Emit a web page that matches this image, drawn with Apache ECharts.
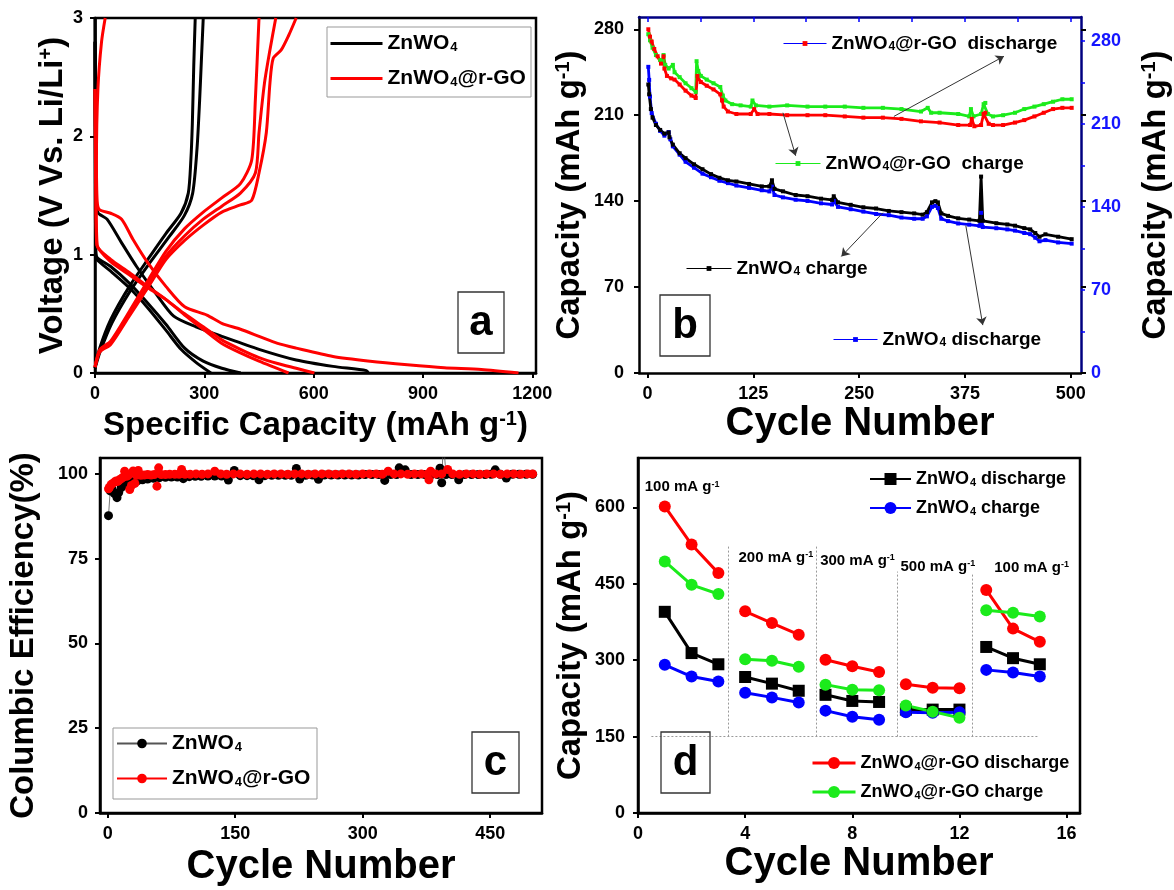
<!DOCTYPE html>
<html>
<head>
<meta charset="utf-8">
<script src="https://cdn.jsdelivr.net/npm/echarts@6/dist/echarts.min.js"></script>
<style>
  html, body { margin: 0; padding: 0; background: #fff; }
  #chart { width: 1174px; height: 890px; }
</style>
</head>
<body>
<div id="chart"></div>
<script>
const FONT = '"Liberation Sans", Arial, Helvetica, sans-serif';

// ---------- (a) charge / discharge voltage profiles: [capacity mAh/g, voltage V] ----------
const znwoDischarge1 = [[0,3.0],[1,2.2],[3,1.6],[7,1.36],[33,1.30],[73,1.10],[114,0.90],[165,0.68],[216,0.48],[277,0.39],[348,0.31],[450,0.20],[552,0.11],[653,0.056],[745,0.02],[750,0.0]];
const znwoDischarge2 = [[0,2.8],[1,1.6],[2,1.05],[5,0.98],[43,0.90],[94,0.76],[145,0.59],[195,0.41],[246,0.21],[297,0.10],[348,0.04],[400,0.0]];
const znwoDischarge3 = [[0,2.8],[1,1.6],[2,1.02],[5,0.96],[43,0.86],[94,0.72],[145,0.55],[195,0.36],[236,0.20],[277,0.09],[318,0.0]];
const znwoCharge1 = [[0,0.04],[12,0.2],[43,0.45],[94,0.73],[145,0.96],[195,1.18],[236,1.35],[256,1.52],[263,1.8],[267,2.1],[271,2.6],[275,3.0]];
const znwoCharge2 = [[0,0.04],[14,0.18],[46,0.42],[98,0.70],[150,0.93],[203,1.15],[245,1.33],[268,1.52],[280,1.9],[287,2.3],[292,2.65],[297,3.0]];

const rgoDischarge1 = [[28,3.0],[18,2.8],[8,2.4],[4,1.8],[6,1.45],[12,1.38],[43,1.35],[73,1.30],[104,1.13],[145,0.93],[195,0.73],[246,0.56],[307,0.49],[348,0.42],[399,0.37],[450,0.31],[501,0.25],[552,0.21],[653,0.14],[755,0.10],[857,0.07],[958,0.045],[1060,0.03],[1162,0.0]];
const rgoDischarge2 = [[0,2.4],[2,1.5],[5,1.08],[43,0.96],[94,0.85],[145,0.73],[195,0.62],[246,0.49],[297,0.37],[348,0.25],[399,0.17],[450,0.10],[531,0.0]];
const rgoDischarge3 = [[0,2.4],[3,1.5],[6,1.08],[43,0.94],[94,0.83],[145,0.72],[195,0.62],[246,0.50],[297,0.39],[348,0.28],[399,0.20],[450,0.13],[501,0.08],[552,0.04],[602,0.0]];
const rgoCharge1 = [[0,0.05],[14,0.2],[43,0.27],[94,0.52],[145,0.78],[195,1.03],[246,1.22],[297,1.36],[348,1.48],[399,1.60],[430,1.80],[440,2.31],[450,3.0]];
const rgoCharge2 = [[0,0.05],[14,0.2],[43,0.25],[94,0.50],[145,0.75],[195,0.99],[246,1.16],[297,1.30],[348,1.41],[399,1.52],[440,1.69],[450,2.03],[465,2.45],[480,2.73],[496,3.0]];
const rgoCharge3 = [[0,0.05],[14,0.18],[43,0.24],[94,0.48],[145,0.72],[195,0.96],[246,1.12],[297,1.25],[348,1.36],[399,1.42],[430,1.46],[450,1.69],[470,2.03],[480,2.45],[489,2.66],[511,2.73],[531,2.85],[552,3.0]];

const znwoProfiles = [znwoDischarge1, znwoDischarge2, znwoDischarge3, znwoCharge1, znwoCharge2];
const rgoProfiles = [rgoDischarge1, rgoDischarge2, rgoDischarge3, rgoCharge1, rgoCharge2, rgoCharge3];
const capTicks = [0, 300, 600, 900, 1200];
const voltTicks = [0, 1, 2, 3];

// ---------- (b) long-term cycling: [cycle, capacity mAh/g] ----------
const rgoChargeCycling = [[1,276],[3,271],[6,265],[10,259],[15,255],[18,254],[19,259],[21,251],[25,248],[30,251],[32,245],[38,241],[45,236],[52,232],[57,229],[58,254],[60,246],[63,242],[70,239],[78,236],[86,233],[89,226],[92,222],[100,219],[110,218],[122,217],[124,222],[128,218],[144,217],[165,218],[189,217],[210,217],[233,217],[255,216],[278,216],[300,215],[323,213],[331,216],[335,212],[345,212],[367,211],[380,209],[382,215],[385,209],[394,211],[397,219],[399,220],[402,211],[408,209],[420,210],[434,212],[445,215],[457,217],[468,219],[479,221],[490,223],[501,223]];
const rgoDischargeCycling = [[1,280],[3,274],[5,270],[8,264],[12,258],[16,252],[19,258],[20,248],[23,242],[28,240],[32,239],[38,235],[45,230],[52,226],[57,224],[59,242],[63,237],[70,234],[78,231],[86,227],[88,222],[90,217],[95,213],[105,211],[122,211],[126,215],[130,211],[144,211],[165,210],[189,210],[210,210],[233,209],[255,208],[278,208],[300,207],[323,205],[345,204],[367,202],[381,202],[383,207],[386,201],[394,202],[397,211],[399,212],[403,203],[408,202],[420,202],[434,204],[445,206],[457,209],[468,212],[479,215],[490,216],[501,216]];
const znwoChargeCycling = [[1,235],[2,227],[4,215],[6,208],[10,202],[15,198],[20,195],[25,196],[26,192],[30,186],[38,179],[45,175],[55,170],[65,166],[75,162],[85,159],[95,157],[105,156],[120,154],[135,152],[144,152],[147,157],[150,150],[160,148],[175,145],[189,144],[205,142],[218,141],[220,144],[225,139],[240,137],[255,135],[270,134],[285,132],[300,131],[315,130],[325,129],[330,131],[336,139],[340,140],[343,139],[347,130],[355,128],[367,126],[380,125],[392,124],[394,160],[396,124],[412,122],[425,121],[434,120],[445,118],[452,117],[458,114],[463,111],[470,113],[485,111],[501,109]];
const znwoDischargeCycling = [[1,258],[2,247],[3,233],[5,219],[10,210],[15,204],[20,200],[25,203],[27,197],[30,191],[38,184],[45,178],[55,173],[65,168],[75,165],[85,162],[95,160],[105,158],[120,156],[135,154],[144,153],[147,157],[150,150],[160,148],[175,146],[189,145],[205,143],[218,142],[220,145],[225,140],[240,138],[255,136],[270,134],[285,133],[300,131],[315,130],[325,130],[330,132],[336,140],[340,141],[343,139],[347,130],[355,128],[367,126],[380,125],[392,124],[394,135],[396,123],[412,122],[425,121],[434,120],[445,118],[452,117],[458,114],[463,111],[470,112],[485,110],[501,109]];
const cycleTicksB = [0, 125, 250, 375, 500];
const cycleTicksTopB = [0, 62.5, 125, 187.5, 250, 312.5, 375, 437.5, 500];
const capTicksB = [0, 70, 140, 210, 280];
const capTicksRightB = [0, 35, 70, 105, 140, 175, 210, 245, 280];
// pointer lines from the series labels to their curves: [from, to] in (cycle, capacity)
const pointersB = [
  [[291, 209], [421, 258]],
  [[160, 212], [175, 177]],
  [[278, 130.5], [229, 95]],
  [[376, 120], [396, 39]]
];

// ---------- (c) coulombic efficiency: [cycle, %] ----------
const ceZnwo = [[1,87.7],[3,95.0],[5,95.6],[8,94.2],[11,93.0],[13,94.5],[16,96.0],[20,96.8],[25,97.3],[30,97.7],[35,98.0],[41,98.3],[47,98.5],[54,98.7],[61,98.9],[68,99.0],[75,99.1],[82,99.1],[89,98.6],[96,99.2],[103,99.3],[110,99.3],[118,99.4],[126,99.4],[134,99.4],[142,98.2],[149,101.0],[156,99.5],[164,99.5],[171,99.5],[178,98.3],[185,99.5],[193,99.6],[201,99.6],[209,99.6],[216,99.6],[222,101.6],[226,98.5],[233,99.6],[241,99.7],[248,98.4],[255,99.7],[263,99.7],[271,99.7],[279,99.7],[287,99.7],[295,99.7],[303,99.8],[311,99.8],[319,99.8],[326,98.1],[333,99.8],[340,99.8],[343,101.8],[350,101.2],[357,99.8],[365,99.8],[373,99.8],[381,99.8],[388,99.8],[391,101.7],[393,97.4],[395,110],[398,99.8],[405,99.8],[413,98.3],[420,99.8],[428,99.8],[436,99.8],[444,99.8],[451,99.9],[456,101.2],[462,99.9],[469,98.8],[476,99.9],[484,99.9],[492,99.9],[500,99.9]];
const ceRgo = [[1,95.6],[2,96.0],[4,96.8],[6,97.2],[8,97.6],[10,97.9],[12,97.8],[14,98.3],[16,98.6],[18,99.0],[20,100.8],[22,99.3],[24,99.5],[26,95.4],[28,96.6],[30,100.9],[32,97.2],[34,99.6],[36,101.0],[39,99.6],[43,99.7],[47,99.8],[51,99.7],[55,99.8],[58,96.4],[60,101.8],[63,99.8],[68,99.8],[73,99.9],[79,99.9],[84,99.9],[87,101.3],[91,99.9],[97,99.9],[104,100.0],[111,99.9],[118,100.0],[126,100.8],[133,100.0],[140,99.9],[148,100.0],[156,100.0],[164,99.9],[172,100.0],[180,100.0],[188,99.9],[196,100.0],[204,100.0],[212,99.9],[220,100.0],[228,100.0],[236,99.9],[244,100.0],[252,100.0],[260,100.0],[268,99.9],[276,100.0],[284,100.0],[292,99.9],[300,100.0],[308,100.0],[316,100.0],[323,99.9],[330,100.8],[337,100.0],[345,100.0],[353,99.9],[361,100.0],[369,100.0],[376,99.9],[378,98.3],[380,100.8],[386,100.0],[393,100.0],[400,101.3],[406,100.0],[414,99.9],[422,100.0],[430,100.0],[438,99.9],[446,100.0],[454,100.0],[462,99.9],[470,100.0],[478,100.0],[486,99.9],[494,100.0],[500,100.0]];
const cycleTicksC = [0, 150, 300, 450];
const ceTicks = [0, 25, 50, 75, 100];

// ---------- (d) rate capability ----------
const rateCycles = [1,2,3, 4,5,6, 7,8,9, 10,11,12, 13,14,15];
const rateZnwoDischarge = [395,314,292, 267,254,240, 232,220,218, 203,203,203, 326,304,292];
const rateZnwoCharge    = [291,268,258, 236,227,217, 201,189,183, 198,197,198, 281,276,268];
const rateRgoDischarge  = [602,527,471, 396,373,350, 301,288,277, 253,246,245, 438,362,336];
const rateRgoCharge     = [494,448,430, 302,299,287, 252,242,241, 211,199,187, 398,393,386];
const rateSteps = [
  { rate: 100, x: 0.25, y: 640 },
  { rate: 200, x: 3.75, y: 501 },
  { rate: 300, x: 6.8,  y: 496 },
  { rate: 500, x: 9.8,  y: 483 },
  { rate: 100, x: 13.3, y: 481 }
];
const rateDividers = [[3.37, 527], [6.66, 527], [9.66, 474], [12.47, 472]];
const rateBaseline = { from: 0.5, to: 14.93, y: 150 };
const cycleTicksD = [0, 4, 8, 12, 16];
const capTicksD = [0, 150, 300, 450, 600];

// ---------- shared styles ----------
const RED = '#FF0000', GREEN = '#1BEB1B', BLUE = '#0000FF', NAVY = '#000080';

function rateSeriesData(values) {
  const out = [];
  values.forEach((v, i) => {
    out.push([rateCycles[i], v]);
    if (i % 3 === 2 && i < values.length - 1) out.push([rateCycles[i] + 0.5, '-']);
  });
  return out;
}

function titleRich(size) {
  return {
    t: { fontFamily: FONT, fontWeight: 'bold', fontSize: size, color: '#000' },
    p: { fontFamily: FONT, fontWeight: 'bold', fontSize: Math.round(size * 0.6), color: '#000', verticalAlign: 'top' }
  };
}
function nameStyle(size) {
  return { fontFamily: FONT, fontWeight: 'bold', fontSize: size, color: '#000', rich: titleRich(size) };
}
function legendRichText(name) {
  const text = name.slice(2);
  const parts = text.split('ZnWO4');
  return parts.map(p => (p ? '{n|' + p + '}' : '')).join('{n|ZnWO}{s|4}');
}
function legendText(size) {
  const sub = Math.round(size * 0.62);
  return {
    fontFamily: FONT, fontWeight: 'bold', fontSize: size, color: '#000',
    rich: {
      n: { fontFamily: FONT, fontWeight: 'bold', fontSize: size, lineHeight: size, color: '#000' },
      s: { fontFamily: FONT, fontWeight: 'bold', fontSize: sub, lineHeight: sub, color: '#000',
           verticalAlign: 'bottom', padding: [Math.round(size * 0.8), 0, 0, 1] }
    }
  };
}
const tickLabel = { fontFamily: FONT, fontWeight: 'bold', fontSize: 18, color: '#000', formatter: v => String(v) };
const blackLine = { show: true, onZero: false, lineStyle: { color: '#000', width: 2.5 } };
function outTicks(values, color) {
  return { show: true, inside: false, length: 5, customValues: values, lineStyle: { color: color || '#000', width: 2 } };
}
function valueAxis(o) {
  return Object.assign({
    type: 'value', splitLine: { show: false }, axisLine: blackLine,
    nameLocation: 'middle', scale: false
  }, o);
}

const series = [];

// (a) profiles
znwoProfiles.forEach(pts => series.push({
  type: 'line', name: 'a:ZnWO4', xAxisIndex: 0, yAxisIndex: 0, data: pts,
  symbol: 'none', smooth: 0.25, lineStyle: { color: '#000', width: 3 }, itemStyle: { color: '#000' }
}));
rgoProfiles.forEach(pts => series.push({
  type: 'line', name: 'a:ZnWO4@r-GO', xAxisIndex: 0, yAxisIndex: 0, data: pts,
  symbol: 'none', smooth: 0.25, lineStyle: { color: RED, width: 3 }, itemStyle: { color: RED }
}));

// (b) cycling
series.push({
  type: 'line', name: 'b:ZnWO4@r-GO  charge', xAxisIndex: 1, yAxisIndex: 1, data: rgoChargeCycling,
  symbol: 'rect', symbolSize: 4, lineStyle: { color: GREEN, width: 2.8 }, itemStyle: { color: GREEN },
  markLine: {
    silent: true, symbol: ['none', 'arrow'], symbolSize: 8,
    label: { show: false }, lineStyle: { color: '#333', width: 1, type: 'solid' },
    data: pointersB.map(([a, b]) => [{ coord: a }, { coord: b }])
  }
});
series.push({
  type: 'line', name: 'b:ZnWO4@r-GO  discharge', xAxisIndex: 1, yAxisIndex: 1, data: rgoDischargeCycling,
  symbol: 'rect', symbolSize: 4, lineStyle: { color: RED, width: 2.8 }, itemStyle: { color: RED }
});
series.push({
  type: 'line', name: 'b:ZnWO4 discharge', xAxisIndex: 1, yAxisIndex: 2, data: znwoDischargeCycling,
  symbol: 'rect', symbolSize: 4, lineStyle: { color: BLUE, width: 2.8 }, itemStyle: { color: BLUE }
});
series.push({
  type: 'line', name: 'b:ZnWO4 charge', xAxisIndex: 1, yAxisIndex: 1, data: znwoChargeCycling,
  symbol: 'rect', symbolSize: 4, lineStyle: { color: '#000', width: 2.8 }, itemStyle: { color: '#000' }
});

// (c) efficiency
series.push({
  type: 'line', name: 'c:ZnWO4', xAxisIndex: 3, yAxisIndex: 4, data: ceZnwo,
  symbol: 'circle', symbolSize: 9, lineStyle: { color: '#555', width: 0.8 }, itemStyle: { color: '#000' }
});
series.push({
  type: 'line', name: 'c:ZnWO4@r-GO', xAxisIndex: 3, yAxisIndex: 4, data: ceRgo,
  symbol: 'circle', symbolSize: 9, lineStyle: { color: RED, width: 0.8 }, itemStyle: { color: RED }
});

// (d) rate capability
series.push({
  type: 'line', name: 'd:ZnWO4 discharge', xAxisIndex: 4, yAxisIndex: 5, data: rateSeriesData(rateZnwoDischarge),
  symbol: 'rect', symbolSize: 12, lineStyle: { color: '#000', width: 3 }, itemStyle: { color: '#000' },
  markLine: {
    silent: true, symbol: ['none', 'none'], label: { show: false },
    lineStyle: { color: '#999', width: 1, type: [2, 2] },
    data: rateDividers.map(([x, top]) => [{ coord: [x, rateBaseline.y] }, { coord: [x, top] }])
      .concat([[{ coord: [rateBaseline.from, rateBaseline.y] }, { coord: [rateBaseline.to, rateBaseline.y] }]])
  }
});
series.push({
  type: 'line', name: 'd:ZnWO4 charge', xAxisIndex: 4, yAxisIndex: 5, data: rateSeriesData(rateZnwoCharge),
  symbol: 'circle', symbolSize: 12, lineStyle: { color: BLUE, width: 3 }, itemStyle: { color: BLUE }
});
series.push({
  type: 'line', name: 'd:ZnWO4@r-GO discharge', xAxisIndex: 4, yAxisIndex: 5, data: rateSeriesData(rateRgoDischarge),
  symbol: 'circle', symbolSize: 12, lineStyle: { color: RED, width: 3 }, itemStyle: { color: RED }
});
series.push({
  type: 'line', name: 'd:ZnWO4@r-GO charge', xAxisIndex: 4, yAxisIndex: 5, data: rateSeriesData(rateRgoCharge),
  symbol: 'circle', symbolSize: 12, lineStyle: { color: GREEN, width: 3 }, itemStyle: { color: GREEN }
});

function legendAt(left, top, names, size, extra) {
  return Object.assign({
    left: left, top: top, orient: 'vertical', padding: 0, selectedMode: false,
    data: names, formatter: legendRichText, textStyle: legendText(size)
  }, extra);
}

const option = {
  animation: false,
  backgroundColor: '#fff',
  grid: [
    { left: 95, top: 18, width: 441, height: 355, show: true, borderColor: '#000', borderWidth: 2.5, backgroundColor: 'transparent' },
    { left: 639, top: 17, width: 442, height: 356, show: false },
    { left: 100, top: 458, width: 442, height: 355, show: true, borderColor: '#000', borderWidth: 2.5, backgroundColor: 'transparent' },
    { left: 638, top: 458, width: 442, height: 355, show: true, borderColor: '#000', borderWidth: 2.5, backgroundColor: 'transparent' }
  ],
  xAxis: [
    valueAxis({ gridIndex: 0, min: 0, max: 1210, axisTick: outTicks(capTicks),
      axisLabel: Object.assign({ margin: 12, customValues: capTicks }, tickLabel),
      name: '{t|Specific Capacity (mAh g}{p|-1}{t|)}', nameGap: 36, nameTextStyle: nameStyle(33) }),
    valueAxis({ gridIndex: 1, min: -10, max: 512, position: 'bottom', axisTick: outTicks(cycleTicksB),
      axisLabel: Object.assign({ margin: 12, customValues: cycleTicksB }, tickLabel),
      name: 'Cycle Number', nameGap: 30, nameTextStyle: nameStyle(40) }),
    valueAxis({ gridIndex: 1, min: -10, max: 512, position: 'top',
      axisLine: { show: true, onZero: false, lineStyle: { color: NAVY, width: 2.5 } },
      axisTick: { show: true, inside: true, length: 5, customValues: cycleTicksTopB, lineStyle: { color: BLUE, width: 1.5 } },
      axisLabel: { show: false } }),
    valueAxis({ gridIndex: 2, min: -9, max: 511, axisTick: outTicks(cycleTicksC),
      axisLabel: Object.assign({ margin: 12, customValues: cycleTicksC }, tickLabel),
      name: 'Cycle Number', nameGap: 34, nameTextStyle: nameStyle(40) }),
    valueAxis({ gridIndex: 3, min: 0, max: 16.5, axisTick: outTicks(cycleTicksD),
      axisLabel: Object.assign({ margin: 12, customValues: cycleTicksD }, tickLabel),
      name: 'Cycle Number', nameGap: 27, nameTextStyle: nameStyle(40) })
  ],
  yAxis: [
    valueAxis({ gridIndex: 0, min: 0, max: 3, axisTick: outTicks(voltTicks),
      axisLabel: Object.assign({ margin: 12, customValues: voltTicks }, tickLabel),
      name: '{t|Voltage (V Vs. Li/Li}{p|+}{t|)}', nameGap: 22, nameRotate: 90, nameTextStyle: nameStyle(33) }),
    valueAxis({ gridIndex: 1, min: 0, max: 290, position: 'left', axisTick: outTicks(capTicksB),
      axisLabel: Object.assign({ margin: 15, customValues: capTicksB }, tickLabel),
      name: '{t|Capacity (mAh g}{p|-1}{t|)}', nameGap: 53, nameRotate: 90, nameTextStyle: nameStyle(33) }),
    valueAxis({ gridIndex: 1, min: 0, max: 300, position: 'right',
      axisLine: { show: true, onZero: false, lineStyle: { color: NAVY, width: 2.5 } },
      axisTick: { show: true, inside: false, length: 4, customValues: capTicksRightB, lineStyle: { color: BLUE, width: 1.5 } },
      axisLabel: Object.assign({}, tickLabel, { color: '#1515FF', margin: 10, customValues: capTicksB }),
      name: '{t|Capacity (mAh g}{p|-1}{t|)}', nameGap: 58, nameRotate: 90, nameTextStyle: nameStyle(33) }),
    valueAxis({ gridIndex: 1, min: 0, max: 290, position: 'right',
      axisLine: { show: false, onZero: false }, axisTick: outTicks(capTicksB), axisLabel: { show: false } }),
    valueAxis({ gridIndex: 2, min: 0, max: 104.7, axisTick: outTicks(ceTicks),
      axisLabel: Object.assign({ margin: 12, customValues: ceTicks }, tickLabel),
      name: 'Columbic Efficiency(%)', nameGap: 60, nameRotate: 90, nameTextStyle: nameStyle(33) }),
    valueAxis({ gridIndex: 3, min: 0, max: 697, axisTick: outTicks(capTicksD),
      axisLabel: Object.assign({ margin: 13, customValues: capTicksD }, tickLabel),
      name: '{t|Capacity (mAh g}{p|-1}{t|)}', nameGap: 51, nameRotate: 90, nameTextStyle: nameStyle(33) })
  ],
  legend: [
    legendAt(329, 24, ['a:ZnWO4', 'a:ZnWO4@r-GO'], 21, { itemWidth: 52, itemHeight: 10, itemGap: 5, itemStyle: { opacity: 0 }, lineStyle: { width: 3 } }),
    legendAt(783, 26, [{ name: 'b:ZnWO4@r-GO  discharge', itemStyle: { color: RED }, lineStyle: { color: BLUE, width: 1 } }], 19, { itemWidth: 43, itemHeight: 6 }),
    legendAt(775, 146, [{ name: 'b:ZnWO4@r-GO  charge', lineStyle: { width: 1 } }], 19, { itemWidth: 45, itemHeight: 6 }),
    legendAt(686, 251, [{ name: 'b:ZnWO4 charge', lineStyle: { width: 1 } }], 19, { itemWidth: 45, itemHeight: 6 }),
    legendAt(833, 322, [{ name: 'b:ZnWO4 discharge', lineStyle: { width: 1 } }], 19, { itemWidth: 44, itemHeight: 6 }),
    legendAt(116, 724, ['c:ZnWO4', 'c:ZnWO4@r-GO'], 21, { itemWidth: 50, itemHeight: 12, itemGap: 5 }),
    legendAt(869, 463, ['d:ZnWO4 discharge', 'd:ZnWO4 charge'], 18, { itemWidth: 41, itemHeight: 15, itemGap: 4 }),
    legendAt(811, 747, ['d:ZnWO4@r-GO discharge', 'd:ZnWO4@r-GO charge'], 18, { itemWidth: 43, itemHeight: 15, itemGap: 4, lineStyle: { width: 3 } })
  ],
  series: series
};

const chart = echarts.init(document.getElementById('chart'), null, { renderer: 'canvas' });
chart.setOption(option);

// panel tags, legend frames and current-density notes
const panelTags = [
  { tag: 'a', x: 458, y: 292, w: 46, h: 61 },
  { tag: 'b', x: 660, y: 295, w: 50, h: 61 },
  { tag: 'c', x: 472, y: 732, w: 47, h: 61 },
  { tag: 'd', x: 661, y: 732, w: 49, h: 61 }
];
const legendFrames = [
  { x: 327, y: 27, w: 204, h: 70 },
  { x: 113, y: 728, w: 204, h: 71 }
];
const graphics = [];
panelTags.forEach(p => {
  graphics.push({ type: 'rect', shape: { x: p.x, y: p.y, width: p.w, height: p.h }, style: { fill: 'none', stroke: '#333', lineWidth: 1.3 }, z: 10 });
  graphics.push({ type: 'text', x: p.x + p.w / 2, y: p.y + p.h / 2 + 1, z: 10,
    style: { text: p.tag, font: 'bold 42px ' + FONT, fill: '#000', align: 'center', verticalAlign: 'middle' } });
});
legendFrames.forEach(f => graphics.push({ type: 'rect', shape: { x: f.x, y: f.y, width: f.w, height: f.h }, style: { fill: 'none', stroke: '#999', lineWidth: 1 }, z: 10 }));
rateSteps.forEach(s => {
  const [px, py] = chart.convertToPixel({ xAxisIndex: 4, yAxisIndex: 5 }, [s.x, s.y]);
  graphics.push({ type: 'text', x: px, y: py, z: 10,
    style: {
      text: '{t|' + s.rate + ' mA g}{p|-1}', align: 'left', verticalAlign: 'middle',
      rich: {
        t: { fontFamily: FONT, fontWeight: 'bold', fontSize: 15, fill: '#000' },
        p: { fontFamily: FONT, fontWeight: 'bold', fontSize: 9, fill: '#000', verticalAlign: 'top' }
      }
    } });
});
chart.setOption({ graphic: graphics });
</script>
</body>
</html>
